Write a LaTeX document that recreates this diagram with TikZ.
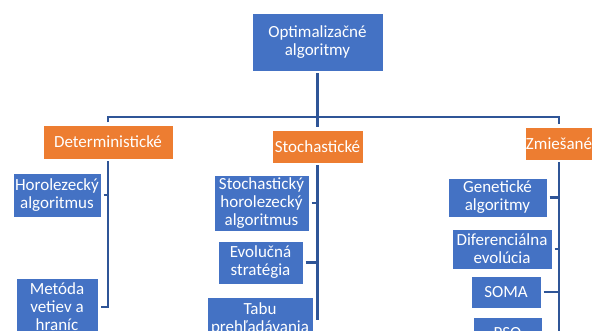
\documentclass[tikz,border=0pt]{standalone}
\usepackage{fontspec}
\setmainfont{Carlito}
\usetikzlibrary{positioning,calc}
\definecolor{modra}{HTML}{4472C4}
\definecolor{oranz}{HTML}{ED7D31}
\definecolor{ciara}{HTML}{2F5597}
\tikzset{
  box/.style={draw=white,line width=0.5pt,text=white,align=center,inner sep=0pt,outer sep=2.5pt,
    font=\fontsize{17}{18}\selectfont},
  alg/.style={box,fill=modra},
  kat/.style={box,fill=oranz},
  spoj/.style={draw=ciara,line width=2.2pt},
}
\begin{document}
\begin{tikzpicture}[x=1pt,y=-1pt]
  \useasboundingbox (0,0) rectangle (592,331);
  \clip (0,0) rectangle (592,331);
  % koren a kategorie
  \node[alg,minimum width=131,minimum height=58] (root) at (317.5,42) {Optimalizačné\\algoritmy};
  \node[kat,minimum width=130,minimum height=34] (det) at (108,142) {Deterministické};
  \node[kat,minimum width=91,minimum height=33] (sto) at (317.5,146.5) {Stochastické};
  \node[kat,minimum width=68,minimum height=33] (zmi) at (559,143.5) {Zmiešané};
  \coordinate (bus) at (317.5,117);
  \draw[spoj] (root) -- (sto);
  \draw[spoj] (det.north) |- (bus) -| (zmi.north);
  % deterministicke
  \node[alg,minimum width=88,minimum height=44] (horo) at (57,195) {Horolezecký\\algoritmus};
  \node[alg,minimum width=82,minimum height=58] (meto) at (57,307) {Metóda\\vetiev a\\hraníc};
  \draw[spoj] (det.south) |- (meto.east);
  \draw[spoj] (horo.east) -- (horo.east -| det.south);
  % stochasticke
  \node[alg,minimum width=95,minimum height=56] (shc) at (261.5,203) {Stochastický\\horolezecký\\algoritmus};
  \node[alg,minimum width=85,minimum height=43] (evo) at (260.5,262.5) {Evolučná\\stratégia};
  \node[alg,minimum width=106,minimum height=44] (tabu) at (260,319) {Tabu\\prehľadávania};
  \draw[spoj] (sto.south) |- (tabu.east);
  \foreach \n in {shc,evo}
    \draw[spoj] (\n.east) -- (\n.east -| sto.south);
  % zmiesane
  \node[alg,minimum width=99,minimum height=39] (gen) at (497.5,197.5) {Genetické\\algoritmy};
  \node[alg,minimum width=100,minimum height=40] (dif) at (502,249) {Diferenciálna\\evolúcia};
  \node[alg,minimum width=70,minimum height=32] (soma) at (506,292) {SOMA};
  \node[alg,minimum width=69,minimum height=32] (pso) at (507.5,333) {PSO};
  \draw[spoj] (zmi.south) |- (pso.east);
  \foreach \n in {gen,dif,soma}
    \draw[spoj] (\n.east) -- (\n.east -| zmi.south);
\end{tikzpicture}
\end{document}
